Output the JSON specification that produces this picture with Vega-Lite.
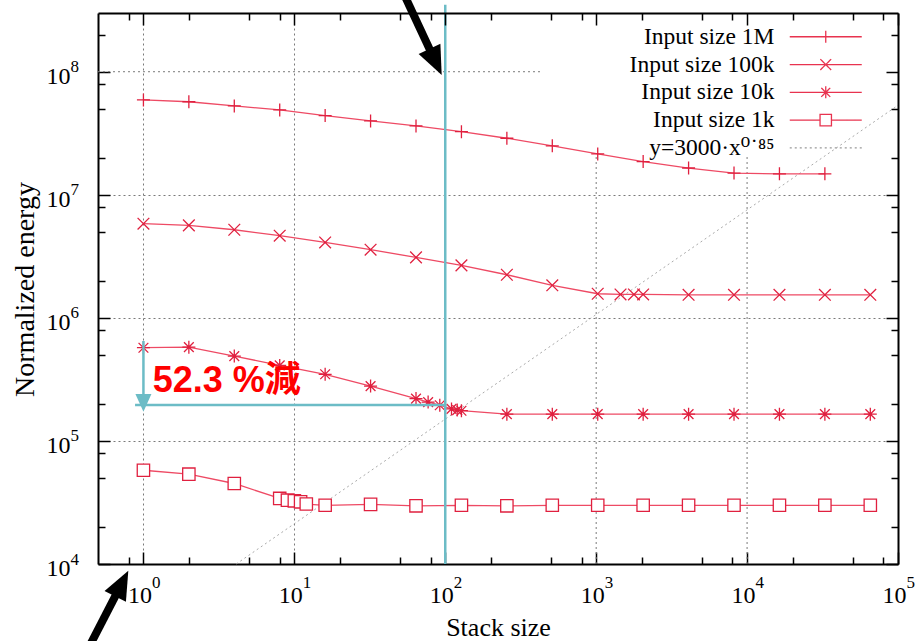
{
  "$schema": "https://vega.github.io/schema/vega-lite/v6.json",
  "width": 800,
  "height": 551,
  "autosize": {"type": "none"},
  "padding": {"left": 98, "top": 13, "right": 17, "bottom": 77},
  "background": "white",
  "config": {"view": {"stroke": null}, "font": "Liberation Serif, Times New Roman, DejaVu Serif, serif"},
  "datasets": {
    "pts": [
      {"s": "Input size 1M", "x": 1, "y": 59000000}, {"s": "Input size 1M", "x": 2, "y": 57000000}, {"s": "Input size 1M", "x": 4, "y": 52700000}, {"s": "Input size 1M", "x": 8, "y": 48900000}, {"s": "Input size 1M", "x": 16, "y": 44000000}, {"s": "Input size 1M", "x": 32, "y": 39800000}, {"s": "Input size 1M", "x": 64, "y": 36300000}, {"s": "Input size 1M", "x": 128, "y": 32600000}, {"s": "Input size 1M", "x": 256, "y": 28800000}, {"s": "Input size 1M", "x": 512, "y": 25000000}, {"s": "Input size 1M", "x": 1024, "y": 21500000}, {"s": "Input size 1M", "x": 2048, "y": 18600000}, {"s": "Input size 1M", "x": 4096, "y": 16500000}, {"s": "Input size 1M", "x": 8192, "y": 15000000}, {"s": "Input size 1M", "x": 16384, "y": 14800000}, {"s": "Input size 1M", "x": 32768, "y": 14800000},
      {"s": "Input size 100k", "x": 1, "y": 5820000}, {"s": "Input size 100k", "x": 2, "y": 5640000}, {"s": "Input size 100k", "x": 4, "y": 5200000}, {"s": "Input size 100k", "x": 8, "y": 4650000}, {"s": "Input size 100k", "x": 16, "y": 4100000}, {"s": "Input size 100k", "x": 32, "y": 3580000}, {"s": "Input size 100k", "x": 64, "y": 3100000}, {"s": "Input size 100k", "x": 128, "y": 2670000}, {"s": "Input size 100k", "x": 256, "y": 2240000}, {"s": "Input size 100k", "x": 512, "y": 1840000}, {"s": "Input size 100k", "x": 1024, "y": 1570000}, {"s": "Input size 100k", "x": 1450, "y": 1550000}, {"s": "Input size 100k", "x": 1780, "y": 1550000}, {"s": "Input size 100k", "x": 2048, "y": 1550000}, {"s": "Input size 100k", "x": 4096, "y": 1540000}, {"s": "Input size 100k", "x": 8192, "y": 1540000}, {"s": "Input size 100k", "x": 16384, "y": 1540000}, {"s": "Input size 100k", "x": 32768, "y": 1540000}, {"s": "Input size 100k", "x": 65536, "y": 1540000},
      {"s": "Input size 10k", "x": 1, "y": 572000}, {"s": "Input size 10k", "x": 2, "y": 578000}, {"s": "Input size 10k", "x": 4, "y": 489000}, {"s": "Input size 10k", "x": 8, "y": 411000}, {"s": "Input size 10k", "x": 16, "y": 348000}, {"s": "Input size 10k", "x": 32, "y": 279000}, {"s": "Input size 10k", "x": 64, "y": 221000}, {"s": "Input size 10k", "x": 77, "y": 207000}, {"s": "Input size 10k", "x": 92, "y": 195000}, {"s": "Input size 10k", "x": 110, "y": 182000}, {"s": "Input size 10k", "x": 120, "y": 178000}, {"s": "Input size 10k", "x": 128, "y": 176000}, {"s": "Input size 10k", "x": 256, "y": 165000}, {"s": "Input size 10k", "x": 512, "y": 165000}, {"s": "Input size 10k", "x": 1024, "y": 165000}, {"s": "Input size 10k", "x": 2048, "y": 165000}, {"s": "Input size 10k", "x": 4096, "y": 165000}, {"s": "Input size 10k", "x": 8192, "y": 165000}, {"s": "Input size 10k", "x": 16384, "y": 165000}, {"s": "Input size 10k", "x": 32768, "y": 165000}, {"s": "Input size 10k", "x": 65536, "y": 165000},
      {"s": "Input size 1k", "x": 1, "y": 57800}, {"s": "Input size 1k", "x": 2, "y": 53700}, {"s": "Input size 1k", "x": 4, "y": 45100}, {"s": "Input size 1k", "x": 8, "y": 34100}, {"s": "Input size 1k", "x": 9, "y": 33000}, {"s": "Input size 1k", "x": 10, "y": 32600}, {"s": "Input size 1k", "x": 11, "y": 32000}, {"s": "Input size 1k", "x": 12, "y": 30700}, {"s": "Input size 1k", "x": 16, "y": 30000}, {"s": "Input size 1k", "x": 32, "y": 30500}, {"s": "Input size 1k", "x": 64, "y": 29700}, {"s": "Input size 1k", "x": 128, "y": 30000}, {"s": "Input size 1k", "x": 256, "y": 29700}, {"s": "Input size 1k", "x": 512, "y": 30000}, {"s": "Input size 1k", "x": 1024, "y": 30000}, {"s": "Input size 1k", "x": 2048, "y": 30000}, {"s": "Input size 1k", "x": 4096, "y": 30000}, {"s": "Input size 1k", "x": 8192, "y": 30000}, {"s": "Input size 1k", "x": 16384, "y": 30000}, {"s": "Input size 1k", "x": 32768, "y": 30000}, {"s": "Input size 1k", "x": 65536, "y": 30000}
    ],
    "pow": [{"x": 4.12, "y": 10000}, {"x": 100000, "y": 53400000}],
    "gridcut": [
      {"x": 1000, "x2": 1000, "y": 10000, "y2": 21000000},
      {"x": 10000, "x2": 10000, "y": 10000, "y2": 21000000},
      {"x": 0.5, "x2": 437, "y": 100000000, "y2": 100000000}
    ],
    "cyan": [
      {"x": 100, "x2": 100, "y": 10000, "y2": 350000000},
      {"x": 0.88, "x2": 100, "y": 196000, "y2": 196000},
      {"x": 1, "x2": 1, "y": 649000, "y2": 236000}
    ],
    "cyanHead": [{"x": 1, "y": 173000}],
    "blk": [
      {"x": 0.426, "y": 2001, "x2": 0.681, "y2": 6114},
      {"x": 51.7, "y": 461000000, "x2": 82.2, "y2": 136500000}
    ],
    "headA": [{"x": 0.794, "y": 8822}],
    "headB": [{"x": 94.7, "y": 94100000}],
    "txt": [{"x": 1.152, "y": 250000, "t": "52.3 %減"}],
    "leg": [{"s": "Input size 1M"}, {"s": "Input size 100k"}, {"s": "Input size 10k"}, {"s": "Input size 1k"}, {"s": "y=3000·x⁰˙⁸⁵"}]
  },
  "resolve": {"axis": {"x": "independent", "y": "independent"}},
  "layer": [
    {
      "data": {"name": "gridcut"},
      "mark": {"type": "rule", "color": "#7a7a7a", "strokeWidth": 1, "strokeDash": [2, 3]},
      "encoding": {
        "x": {"field": "x", "type": "quantitative", "scale": {"type": "log", "domain": [0.5, 100000], "nice": false},
          "axis": {"orient": "bottom", "values": [1, 10, 100], "grid": true, "gridColor": "#7a7a7a", "gridDash": [2, 3], "gridWidth": 1, "ticks": false, "labels": false, "domain": false, "title": null, "zindex": 0}},
        "x2": {"field": "x2"},
        "y": {"field": "y", "type": "quantitative", "scale": {"type": "log", "domain": [10000, 300000000], "nice": false},
          "axis": {"orient": "left", "values": [100000, 1000000, 10000000], "grid": true, "gridColor": "#7a7a7a", "gridDash": [2, 3], "gridWidth": 1, "ticks": false, "labels": false, "domain": false, "title": null, "zindex": 0}},
        "y2": {"field": "y2"}
      }
    },
    {
      "data": {"name": "pow"},
      "mark": {"type": "line", "color": "#aaaaaa", "strokeWidth": 1, "strokeDash": [2, 3]},
      "encoding": {
        "x": {"field": "x", "type": "quantitative", "scale": {"type": "log", "domain": [0.5, 100000], "nice": false}, "axis": null},
        "y": {"field": "y", "type": "quantitative", "scale": {"type": "log", "domain": [10000, 300000000], "nice": false}, "axis": null}
      }
    },
    {
      "data": {"name": "pts"},
      "mark": {"type": "line", "color": "#ee4a64", "strokeWidth": 1.3},
      "encoding": {
        "detail": {"field": "s"},
        "x": {"field": "x", "type": "quantitative", "scale": {"type": "log", "domain": [0.5, 100000], "nice": false},
          "axis": {"orient": "bottom", "values": [1, 10, 100, 1000, 10000, 100000],
            "labelExpr": "'10'",
            "labelFont": "Liberation Serif, Times New Roman, DejaVu Serif, serif", "labelFontSize": 24, "labelColor": "black", "labelBaseline": "alphabetic", "labelAlign": "center", "labelPadding": 50, "labelOffset": -4, "labelFlush": false, "labelOverlap": false,
            "tickSize": -12, "tickColor": "black", "tickWidth": 1.5, "domain": true, "domainColor": "black", "domainWidth": 2, "grid": false,
            "title": "Stack size", "titleFont": "Liberation Serif, Times New Roman, DejaVu Serif, serif", "titleFontSize": 26, "titleFontWeight": "normal", "titleColor": "black", "titleY": 71, "titleBaseline": "alphabetic", "zindex": 0}},
        "y": {"field": "y", "type": "quantitative", "scale": {"type": "log", "domain": [10000, 300000000], "nice": false},
          "axis": {"orient": "left", "values": [10000, 100000, 1000000, 10000000, 100000000],
            "labelExpr": "'10'",
            "labelFont": "Liberation Serif, Times New Roman, DejaVu Serif, serif", "labelFontSize": 24, "labelColor": "black", "labelBaseline": "alphabetic", "labelAlign": "right", "labelPadding": 40, "labelOffset": 11.5, "labelFlush": false, "labelOverlap": false,
            "tickSize": -12, "tickColor": "black", "tickWidth": 1.5, "domain": true, "domainColor": "black", "domainWidth": 2, "grid": false,
            "title": "Normalized energy", "titleFont": "Liberation Serif, Times New Roman, DejaVu Serif, serif", "titleFontSize": 28, "titleFontWeight": "normal", "titleColor": "black", "titleX": -65, "titleY": 276, "titleBaseline": "alphabetic", "zindex": 0}}
      }
    },
    {
      "data": {"name": "pts"},
      "transform": [{"filter": "datum.s === 'Input size 1M'"}],
      "mark": {"type": "point", "shape": "M-1,0H1M0,-1V1", "size": 169, "filled": true, "fill": "white", "stroke": "#e0203f", "strokeWidth": 1.3, "opacity": 1},
      "encoding": {
        "x": {"field": "x", "type": "quantitative", "scale": {"type": "log", "domain": [0.5, 100000], "nice": false},
          "axis": {"orient": "top", "values": [1, 10, 100, 1000, 10000, 100000], "labels": false, "tickSize": -12, "tickColor": "black", "tickWidth": 1.5, "domain": true, "domainColor": "black", "domainWidth": 2, "grid": false, "title": null, "zindex": 1}},
        "y": {"field": "y", "type": "quantitative", "scale": {"type": "log", "domain": [10000, 300000000], "nice": false},
          "axis": {"orient": "right", "values": [10000, 100000, 1000000, 10000000, 100000000], "labels": false, "tickSize": -12, "tickColor": "black", "tickWidth": 1.5, "domain": true, "domainColor": "black", "domainWidth": 2, "grid": false, "title": null, "zindex": 1}}
      }
    },
    {
      "data": {"name": "pts"},
      "transform": [{"filter": "datum.s === 'Input size 100k'"}],
      "mark": {"type": "point", "shape": "M-0.9,-0.9L0.9,0.9M-0.9,0.9L0.9,-0.9", "size": 169, "filled": true, "fill": "white", "stroke": "#e0203f", "strokeWidth": 1.3, "opacity": 1},
      "encoding": {
        "x": {"field": "x", "type": "quantitative", "scale": {"type": "log", "domain": [0.5, 100000], "nice": false},
          "axis": {"orient": "bottom", "values": [0.8, 2, 5, 8, 20, 50, 80, 200, 500, 800, 2000, 5000, 8000, 20000, 50000, 80000], "labels": false, "tickSize": -7, "tickColor": "black", "tickWidth": 1.5, "domain": false, "grid": false, "title": null, "zindex": 0}},
        "y": {"field": "y", "type": "quantitative", "scale": {"type": "log", "domain": [10000, 300000000], "nice": false},
          "axis": {"orient": "left", "values": [20000, 50000, 80000, 200000, 500000, 800000, 2000000, 5000000, 8000000, 20000000, 50000000, 80000000, 200000000], "labels": false, "tickSize": -7, "tickColor": "black", "tickWidth": 1.5, "domain": false, "grid": false, "title": null, "zindex": 0}}
      }
    },
    {
      "data": {"name": "pts"},
      "transform": [{"filter": "datum.s === 'Input size 10k'"}],
      "mark": {"type": "point", "shape": "M-1,0H1M0,-1V1M-0.75,-0.75L0.75,0.75M-0.75,0.75L0.75,-0.75", "size": 169, "filled": true, "fill": "white", "stroke": "#e0203f", "strokeWidth": 1.3, "opacity": 1},
      "encoding": {
        "x": {"field": "x", "type": "quantitative", "scale": {"type": "log", "domain": [0.5, 100000], "nice": false},
          "axis": {"orient": "top", "values": [0.8, 2, 5, 8, 20, 50, 80, 200, 500, 800, 2000, 5000, 8000, 20000, 50000, 80000], "labels": false, "tickSize": -7, "tickColor": "black", "tickWidth": 1.5, "domain": false, "grid": false, "title": null, "zindex": 1}},
        "y": {"field": "y", "type": "quantitative", "scale": {"type": "log", "domain": [10000, 300000000], "nice": false},
          "axis": {"orient": "right", "values": [20000, 50000, 80000, 200000, 500000, 800000, 2000000, 5000000, 8000000, 20000000, 50000000, 80000000, 200000000], "labels": false, "tickSize": -7, "tickColor": "black", "tickWidth": 1.5, "domain": false, "grid": false, "title": null, "zindex": 1}}
      }
    },
    {
      "data": {"name": "pts"},
      "transform": [{"filter": "datum.s === 'Input size 1k'"}],
      "mark": {"type": "point", "shape": "M-0.95,-0.95H0.95V0.95H-0.95Z", "size": 169, "filled": true, "fill": "white", "stroke": "#e0203f", "strokeWidth": 1.3, "opacity": 1},
      "encoding": {
        "x": {"field": "x", "type": "quantitative", "scale": {"type": "log", "domain": [0.5, 100000], "nice": false}, "axis": null},
        "y": {"field": "y", "type": "quantitative", "scale": {"type": "log", "domain": [10000, 300000000], "nice": false}, "axis": null}
      }
    },
    {
      "data": {"name": "cyan"},
      "mark": {"type": "rule", "color": "#6cbcc6", "strokeWidth": 2.5},
      "encoding": {
        "x": {"field": "x", "type": "quantitative", "scale": {"type": "log", "domain": [0.5, 100000], "nice": false},
          "axis": {"orient": "bottom", "values": [1, 10, 100, 1000, 10000, 100000],
            "labelExpr": "'' + round(log(datum.value)/LN10)",
            "labelFont": "Liberation Serif, Times New Roman, DejaVu Serif, serif", "labelFontSize": 17, "labelColor": "black", "labelBaseline": "alphabetic", "labelAlign": "left", "labelPadding": 23, "labelOffset": 8, "labelFlush": false, "labelOverlap": false,
            "ticks": true, "tickSize": 0, "tickOpacity": 0, "domain": false, "grid": false, "title": null, "zindex": 0}},
        "x2": {"field": "x2"},
        "y": {"field": "y", "type": "quantitative", "scale": {"type": "log", "domain": [10000, 300000000], "nice": false},
          "axis": {"orient": "left", "values": [10000, 100000, 1000000, 10000000, 100000000],
            "labelExpr": "'' + round(log(datum.value)/LN10)",
            "labelFont": "Liberation Serif, Times New Roman, DejaVu Serif, serif", "labelFontSize": 17, "labelColor": "black", "labelBaseline": "alphabetic", "labelAlign": "left", "labelPadding": 28, "labelOffset": 0, "labelFlush": false, "labelOverlap": false,
            "ticks": true, "tickSize": 0, "tickOpacity": 0, "domain": false, "grid": false, "title": null, "zindex": 0}},
        "y2": {"field": "y2"}
      }
    },
    {
      "data": {"name": "cyanHead"},
      "mark": {"type": "point", "shape": "M0,0L-1,-2.2L1,-2.2Z", "size": 256, "filled": true, "color": "#6cbcc6", "opacity": 1},
      "encoding": {
        "x": {"field": "x", "type": "quantitative", "scale": {"type": "log", "domain": [0.5, 100000], "nice": false}, "axis": null},
        "y": {"field": "y", "type": "quantitative", "scale": {"type": "log", "domain": [10000, 300000000], "nice": false}, "axis": null}
      }
    },
    {
      "data": {"name": "blk"},
      "mark": {"type": "rule", "color": "black", "strokeWidth": 8},
      "encoding": {
        "x": {"field": "x", "type": "quantitative", "scale": {"type": "log", "domain": [0.5, 100000], "nice": false}, "axis": null},
        "x2": {"field": "x2"},
        "y": {"field": "y", "type": "quantitative", "scale": {"type": "log", "domain": [10000, 300000000], "nice": false}, "axis": null},
        "y2": {"field": "y2"}
      }
    },
    {
      "data": {"name": "headA"},
      "mark": {"type": "point", "shape": "M0,0L-1,2.4L1,2.4Z", "size": 576, "angle": 27, "filled": true, "color": "black", "opacity": 1},
      "encoding": {
        "x": {"field": "x", "type": "quantitative", "scale": {"type": "log", "domain": [0.5, 100000], "nice": false}, "axis": null},
        "y": {"field": "y", "type": "quantitative", "scale": {"type": "log", "domain": [10000, 300000000], "nice": false}, "axis": null}
      }
    },
    {
      "data": {"name": "headB"},
      "mark": {"type": "point", "shape": "M0,0L-1,2.4L1,2.4Z", "size": 576, "angle": 155, "filled": true, "color": "black", "opacity": 1},
      "encoding": {
        "x": {"field": "x", "type": "quantitative", "scale": {"type": "log", "domain": [0.5, 100000], "nice": false}, "axis": null},
        "y": {"field": "y", "type": "quantitative", "scale": {"type": "log", "domain": [10000, 300000000], "nice": false}, "axis": null}
      }
    },
    {
      "data": {"name": "txt"},
      "mark": {"type": "text", "align": "left", "baseline": "alphabetic", "font": "Liberation Sans, Noto Sans CJK JP", "fontSize": 36, "fontWeight": "bold", "color": "#ff0000"},
      "encoding": {
        "x": {"field": "x", "type": "quantitative", "scale": {"type": "log", "domain": [0.5, 100000], "nice": false}, "axis": null},
        "y": {"field": "y", "type": "quantitative", "scale": {"type": "log", "domain": [10000, 300000000], "nice": false}, "axis": null},
        "text": {"field": "t"}
      }
    },
    {
      "data": {"name": "leg"},
      "mark": {"type": "point", "filled": false, "opacity": 0, "strokeWidth": 1.3},
      "encoding": {
        "shape": {"field": "s", "type": "nominal",
          "scale": {"domain": ["Input size 1M", "Input size 100k", "Input size 10k", "Input size 1k", "y=3000·x⁰˙⁸⁵"],
            "range": ["M-6,0H6M0,-1V1M9.5,0L9.5,0", "M-6,0H6M-0.9,-0.9L0.9,0.9M-0.9,0.9L0.9,-0.9M9.5,0L9.5,0", "M-6,0H6M0,-1V1M-0.75,-0.75L0.75,0.75M-0.75,0.75L0.75,-0.75M9.5,0L9.5,0", "M-6,0H-0.95M0.95,0H6M-0.95,-0.95H0.95V0.95H-0.95ZM9.5,0L9.5,0", "M-6,0H6M9.5,0L9.5,0"]},
          "legend": {"title": null, "orient": "top-right", "offset": 0, "padding": 12, "labelFont": "Liberation Serif, Times New Roman, DejaVu Serif, serif", "labelFontSize": 23.5, "labelColor": "black", "labelAlign": "right", "labelOffset": -63, "labelLimit": 400, "symbolSize": 144, "symbolStrokeWidth": 1.3, "symbolOpacity": 1, "rowPadding": 2.8}},
        "color": {"field": "s", "type": "nominal",
          "scale": {"domain": ["Input size 1M", "Input size 100k", "Input size 10k", "Input size 1k", "y=3000·x⁰˙⁸⁵"],
            "range": ["#e8334f", "#e8334f", "#e8334f", "#e8334f", "#999999"]},
          "legend": {"title": null, "orient": "top-right", "offset": 0, "padding": 12, "labelFont": "Liberation Serif, Times New Roman, DejaVu Serif, serif", "labelFontSize": 23.5, "labelColor": "black", "labelAlign": "right", "labelOffset": -63, "labelLimit": 400, "symbolSize": 144, "symbolStrokeWidth": 1.3, "symbolOpacity": 1, "rowPadding": 2.8}},
        "strokeDash": {"field": "s", "type": "nominal",
          "scale": {"domain": ["Input size 1M", "Input size 100k", "Input size 10k", "Input size 1k", "y=3000·x⁰˙⁸⁵"],
            "range": [[1, 0], [1, 0], [1, 0], [1, 0], [2, 3]]},
          "legend": {"title": null, "orient": "top-right", "offset": 0, "padding": 12, "labelFont": "Liberation Serif, Times New Roman, DejaVu Serif, serif", "labelFontSize": 23.5, "labelColor": "black", "labelAlign": "right", "labelOffset": -63, "labelLimit": 400, "symbolSize": 144, "symbolStrokeWidth": 1.3, "symbolOpacity": 1, "rowPadding": 2.8}}
      }
    }
  ]
}
